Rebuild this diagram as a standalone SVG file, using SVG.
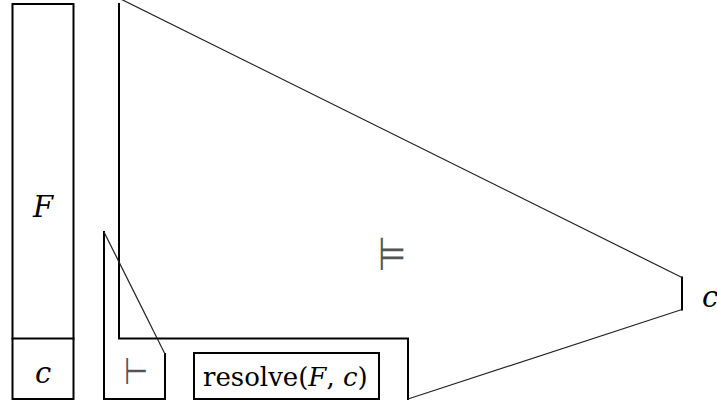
<svg xmlns="http://www.w3.org/2000/svg" width="717" height="405" viewBox="0 0 717 405">
<style>
.thick{fill:none;stroke:#000;stroke-width:2;stroke-linejoin:miter;stroke-linecap:square}
.thin{fill:none;stroke:#222;stroke-width:1.2}
.math{font-family:"DejaVu Serif","Liberation Serif",serif;font-size:29px;fill:#000}
.small{font-size:26px}
.it{font-style:italic}
.sym{font-family:"DejaVu Sans",sans-serif;fill:#555}
</style>
<rect width="717" height="405" fill="#fff"/>
<g id="node-F-c">
<rect class="thick" x="12.5" y="4" width="61" height="395"/>
<line class="thick" x1="12.5" y1="338.5" x2="73.5" y2="338.5"/>
<text class="math it" x="43" y="217" text-anchor="middle">F</text>
<text class="math it" x="43" y="383" text-anchor="middle">c</text>
</g>
<g id="node-entails">
<polyline class="thick" points="119,4 119,338.5 408,338.5 408,399"/>
<line class="thin" x1="408" y1="399" x2="682" y2="309.5"/>
<line class="thick" x1="682" y1="309.5" x2="682" y2="277.5"/>
<line class="thin" x1="682" y1="277.5" x2="115" y2="-3.8"/>
<g transform="translate(392,270) scale(0.7,1)"><text class="sym" x="0" y="0" font-size="46" text-anchor="middle">⊨</text></g>
<text class="math it" x="710" y="307" text-anchor="middle">c</text>
</g>
<g id="node-proves">
<polyline class="thick" points="165,354 165,399 104,399 104,232"/>
<line class="thin" x1="104" y1="232" x2="165" y2="354"/>
<g transform="translate(136,384) scale(0.75,1)"><text class="sym" x="0" y="0" font-size="37" text-anchor="middle">⊢</text></g>
</g>
<g id="node-resolve">
<rect class="thick" x="194" y="353" width="185" height="46"/>
<text class="math small" x="203" y="386">resolve(<tspan class="it">F</tspan>, <tspan class="it">c</tspan>)</text>
</g>
<g id="connectors"></g>
</svg>
